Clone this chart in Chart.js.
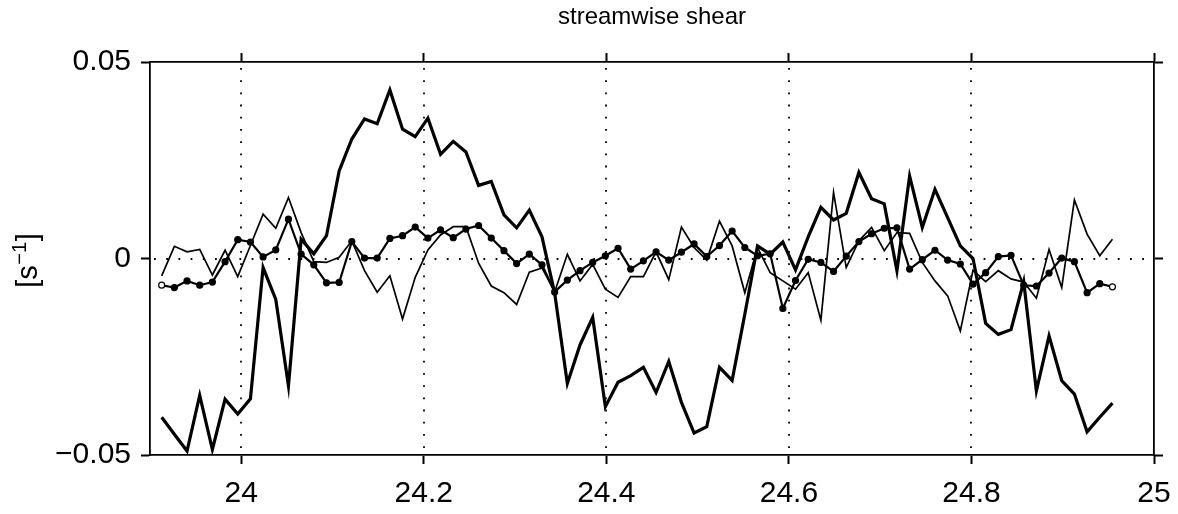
<!DOCTYPE html>
<html>
<head>
<meta charset="utf-8">
<script src="https://cdn.jsdelivr.net/npm/chart.js@4/dist/chart.umd.min.js"></script>
<style>
  html, body { margin: 0; padding: 0; background: #fff; }
  #wrap { width: 1178px; height: 514px; }
</style>
</head>
<body>
<div id="wrap"><canvas id="chart" width="1178" height="514"></canvas></div>
<script>
// Sample clock: one record every 20 minutes (time in days)
const startDay = 23.9128;
const sampleStep = 1 / 72;

// Streamwise shear [s^-1], three records
const thickShear = [
  -0.0404, -0.0447, -0.0490, -0.0348, -0.0486, -0.0358, -0.0396, -0.0357, -0.0023, -0.0104,
  -0.0324,  0.0049,  0.0012,  0.0058,  0.0223,  0.0304,  0.0355,  0.0343,  0.0429,  0.0329,
   0.0310,  0.0357,  0.0265,  0.0298,  0.0271,  0.0186,  0.0196,  0.0111,  0.0078,  0.0123,
   0.0055, -0.0088, -0.0318, -0.0220, -0.0150, -0.0377, -0.0315, -0.0298, -0.0277, -0.0341,
  -0.0262, -0.0366, -0.0444, -0.0428, -0.0277, -0.0310, -0.0142,  0.0032,  0.0011,  0.0042,
  -0.0029,  0.0055,  0.0130,  0.0098,  0.0115,  0.0219,  0.0152,  0.0139, -0.0031,  0.0210,
   0.0079,  0.0176,  0.0104,  0.0032,  0.0000, -0.0165, -0.0193, -0.0181, -0.0059, -0.0337,
  -0.0197, -0.0311, -0.0345, -0.0441, -0.0404, -0.0368
];
const thinShear = [
  -0.0044,  0.0031,  0.0017,  0.0023, -0.0042,  0.0021, -0.0046,  0.0033,  0.0113,  0.0077,
   0.0155,  0.0066, -0.0008, -0.0010,  0.0003,  0.0045, -0.0031, -0.0086, -0.0044, -0.0154,
  -0.0048,  0.0022,  0.0060,  0.0081,  0.0081, -0.0012, -0.0070, -0.0087, -0.0117, -0.0035,
  -0.0024, -0.0085,  0.0011, -0.0057, -0.0015, -0.0078, -0.0099, -0.0046, -0.0046,  0.0017,
  -0.0054,  0.0080,  0.0028, -0.0004,  0.0095,  0.0032, -0.0087,  0.0028, -0.0036, -0.0057,
  -0.0078, -0.0036, -0.0157,  0.0168, -0.0023,  0.0045,  0.0079,  0.0020,  0.0066,  0.0064,
  -0.0010, -0.0057, -0.0095, -0.0184, -0.0030, -0.0059, -0.0031, -0.0052, -0.0060, -0.0101,
   0.0023, -0.0074,  0.0149,  0.0062,  0.0007,  0.0049
];
const dottedShear = [
  -0.0068, -0.0074, -0.0057, -0.0068, -0.0060, -0.0008,  0.0048,  0.0042,  0.0004,  0.0022,
   0.0100,  0.0011, -0.0016, -0.0062, -0.0061,  0.0043,  0.0001,  0.0001,  0.0051,  0.0058,
   0.0080,  0.0052,  0.0073,  0.0053,  0.0075,  0.0084,  0.0052,  0.0020, -0.0013,  0.0011,
  -0.0016, -0.0085, -0.0055, -0.0031, -0.0010,  0.0007,  0.0026, -0.0027, -0.0006,  0.0017,
  -0.0004,  0.0016,  0.0037,  0.0005,  0.0033,  0.0070,  0.0028,  0.0007,  0.0012, -0.0127,
  -0.0056, -0.0002, -0.0010, -0.0033,  0.0006,  0.0043,  0.0063,  0.0077,  0.0078, -0.0027,
  -0.0003,  0.0021, -0.0004, -0.0014, -0.0065, -0.0036,  0.0005,  0.0008, -0.0068, -0.0070,
  -0.0037,  0.0001, -0.0008, -0.0087, -0.0064, -0.0072
];

// Axis ticks and dotted reference lines
const xTickValues = [24, 24.2, 24.4, 24.6, 24.8, 25];
const yTickValues = [-0.05, 0, 0.05];
const xRefLines = [24, 24.2, 24.4, 24.6, 24.8];
const yRefLines = [0];

// Texts
const plotTitle = 'streamwise shear';
const yUnitBase = '[s';
const yUnitExp = '\u22121';
const yUnitClose = ']';

const sampleTimes = thickShear.map((_, i) => startDay + i * sampleStep);
const asPoints = vals => vals.map((v, i) => ({ x: sampleTimes[i], y: v }));

const FONT = '"Liberation Sans", Arial, Helvetica, sans-serif';
Chart.defaults.font.family = FONT;
Chart.defaults.color = '#000';

const fmtX = v => String(Math.round(v * 10) / 10);
const fmtY = v => v === 0 ? '0' : (v < 0 ? '\u2212' : '') + Math.abs(v).toFixed(2);

// Dotted zero line and vertical reference lines inside the plot
const refLines = {
  id: 'refLines',
  beforeDatasetsDraw(chart) {
    const { ctx, chartArea: a, scales } = chart;
    ctx.save();
    ctx.strokeStyle = '#000';
    ctx.lineWidth = 1.8;
    ctx.setLineDash([1.8, 10.4]);
    xRefLines.forEach(v => {
      const px = Math.round(scales.x.getPixelForValue(v));
      ctx.beginPath(); ctx.moveTo(px, a.top + 6); ctx.lineTo(px, a.bottom); ctx.stroke();
    });
    yRefLines.forEach(v => {
      const py = Math.round(scales.y.getPixelForValue(v));
      ctx.beginPath(); ctx.moveTo(a.left + 4, py); ctx.lineTo(a.right, py); ctx.stroke();
    });
    ctx.restore();
  }
};

// Title centred over the plot box, and rotated unit label with a raised exponent
const labels = {
  id: 'labels',
  afterDraw(chart) {
    const { ctx, chartArea: a } = chart;
    ctx.save();
    ctx.fillStyle = '#000';

    ctx.font = '24px ' + FONT;
    ctx.textAlign = 'center';
    ctx.textBaseline = 'alphabetic';
    ctx.fillText(plotTitle, (a.left + a.right) / 2, 24);

    const baseFont = '29px ' + FONT;
    const expFont = '20px ' + FONT;
    ctx.textAlign = 'left';
    ctx.font = baseFont;
    const w1 = ctx.measureText(yUnitBase).width;
    const w3 = ctx.measureText(yUnitClose).width;
    ctx.font = expFont;
    const w2 = ctx.measureText(yUnitExp).width;
    const total = w1 + w2 + w3 + 1;
    ctx.translate(37, (a.top + a.bottom) / 2 + 2);
    ctx.rotate(-Math.PI / 2);
    let x = -total / 2;
    ctx.font = baseFont;
    ctx.fillText(yUnitBase, x, 0);
    x += w1 + 0.5;
    ctx.font = expFont;
    ctx.fillText(yUnitExp, x, -11);
    x += w2 + 0.5;
    ctx.font = baseFont;
    ctx.fillText(yUnitClose, x, 0);
    ctx.restore();
  }
};

const tickGrid = {
  drawOnChartArea: false,
  drawTicks: true,
  tickLength: 9,
  tickWidth: 2,
  tickColor: '#000'
};
const axisBorder = { display: true, color: '#000', width: 1.8 };

const lastIdx = dottedShear.length - 1;
const dotFill = dottedShear.map((_, i) => (i === 0 || i === lastIdx) ? '#fff' : '#000');

new Chart(document.getElementById('chart'), {
  type: 'line',
  data: {
    datasets: [
      {
        label: 'thick',
        data: asPoints(thickShear),
        borderColor: '#000',
        borderWidth: 3.2,
        pointRadius: 0,
        tension: 0
      },
      {
        label: 'thin',
        data: asPoints(thinShear),
        borderColor: '#000',
        borderWidth: 1.7,
        pointRadius: 0,
        tension: 0
      },
      {
        label: 'dots',
        data: asPoints(dottedShear),
        borderColor: '#000',
        borderWidth: 2.2,
        pointRadius: 3,
        pointBackgroundColor: dotFill,
        pointBorderColor: '#000',
        pointBorderWidth: 1.2,
        tension: 0
      }
    ]
  },
  options: {
    responsive: false,
    animation: false,
    devicePixelRatio: 1,
    layout: { padding: { top: 32, left: 0, right: 0, bottom: 0 } },
    plugins: {
      legend: { display: false },
      tooltip: { enabled: false },
      title: { display: false }
    },
    scales: {
      x: {
        type: 'linear',
        position: 'bottom',
        min: 23.9,
        max: 25,
        afterBuildTicks: s => { s.ticks = xTickValues.map(v => ({ value: v })); },
        afterFit: s => { s.height = 59; s.paddingLeft = 0; s.paddingRight = 0; },
        ticks: {
          callback: v => fmtX(v),
          font: { family: FONT, size: 30 },
          color: '#000',
          padding: 12,
          maxRotation: 0,
          autoSkip: false
        },
        grid: tickGrid,
        border: axisBorder
      },
      xTop: {
        type: 'linear',
        position: 'top',
        min: 23.9,
        max: 25,
        afterBuildTicks: s => { s.ticks = xTickValues.map(v => ({ value: v })); },
        afterFit: s => { s.height = 30; s.paddingLeft = 0; s.paddingRight = 0; },
        ticks: { display: false },
        grid: tickGrid,
        border: axisBorder
      },
      y: {
        type: 'linear',
        position: 'left',
        min: -0.05,
        max: 0.05,
        afterBuildTicks: s => { s.ticks = yTickValues.map(v => ({ value: v })); },
        afterFit: s => { s.width = 150; s.paddingTop = 0; s.paddingBottom = 0; },
        ticks: {
          callback: v => fmtY(v),
          font: { family: FONT, size: 30 },
          color: '#000',
          padding: 10
        },
        grid: tickGrid,
        border: axisBorder
      },
      yRight: {
        type: 'linear',
        position: 'right',
        min: -0.05,
        max: 0.05,
        afterBuildTicks: s => { s.ticks = yTickValues.map(v => ({ value: v })); },
        afterFit: s => { s.width = 24; s.paddingTop = 0; s.paddingBottom = 0; },
        ticks: { display: false },
        grid: tickGrid,
        border: axisBorder
      }
    }
  },
  plugins: [refLines, labels]
});
</script>
</body>
</html>
